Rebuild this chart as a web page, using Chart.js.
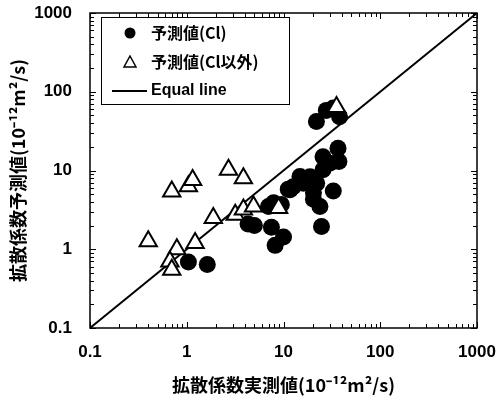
<!DOCTYPE html>
<html>
<head>
<meta charset="utf-8">
<script src="https://cdn.jsdelivr.net/npm/chart.js@4"></script>
<style>
  body{margin:0;background:#fff;}
  #wrap{width:497px;height:402px;}
</style>
</head>
<body>
<div id="wrap"><canvas id="grafico"></canvas></div>
<script>
var clX = [1.04, 1.63, 4.3, 5.0, 7.5, 8.2, 10.0, 7.0, 7.9, 9.5, 11.2, 12.6, 14.8, 16.0, 18.8, 22.0, 20.4, 20.4, 23.8, 24.7, 25.6, 25.6, 30.0, 32.7, 36.6, 37.4, 21.9, 27.7, 32.7, 38.0, 11.7];
var clY = [0.69, 0.64, 2.1, 2.0, 1.9, 1.12, 1.43, 3.5, 3.9, 3.7, 5.8, 6.2, 8.4, 6.9, 8.3, 6.9, 5.2, 4.3, 3.5, 1.95, 14.9, 10.2, 12.4, 5.5, 19.2, 13.0, 42, 58, 62, 48, 5.7];

var otrosX = [0.40, 0.70, 1.04, 1.15, 2.7, 3.85, 1.88, 3.17, 3.85, 4.9, 8.9, 0.79, 1.22, 0.67, 0.70, 35.3];
var otrosY = [1.26, 5.4, 6.3, 7.6, 10.2, 8.0, 2.5, 2.75, 3.2, 3.5, 3.33, 1.0, 1.2, 0.70, 0.55, 64];

var lineaX = [0.1, 1000];
var lineaY = [0.1, 1000];

var ticksMayores = [0.1, 1, 10, 100, 1000];

var tituloX = '拡散係数実測値(10⁻¹²m²/s)';
var tituloY = '拡散係数予測値(10⁻¹²m²/s)';
var leyenda = ['予測値(Cl)', '予測値(Cl以外)', 'Equal line'];

function armarPuntos(xs, ys){
  var pts = [];
  for (var i = 0; i < xs.length; i++) pts.push({x: xs[i], y: ys[i]});
  return pts;
}

var fuenteJP = '"Noto Sans CJK JP", "Liberation Sans", sans-serif';

// ticks menores hacia adentro y marco
var marcoPlugin = {
  id: 'marco',
  afterDraw: function(chart){
    var ctx = chart.ctx, a = chart.chartArea;
    var sx = chart.scales.x, sy = chart.scales.y;
    ctx.save();
    ctx.strokeStyle = '#000';
    ctx.lineWidth = 1;
    for (var d = 0.1; d < 1000; d *= 10) {
      for (var k = 1; k <= 10; k++) {
        var v = d * k;
        var largo = (k == 1 || k == 10) ? 6 : 4;
        var px = Math.round(sx.getPixelForValue(v)) + 0.5;
        var py = Math.round(sy.getPixelForValue(v)) + 0.5;
        ctx.beginPath();
        ctx.moveTo(px, a.bottom); ctx.lineTo(px, a.bottom - largo);
        ctx.moveTo(px, a.top); ctx.lineTo(px, a.top + largo);
        ctx.moveTo(a.left, py); ctx.lineTo(a.left + largo, py);
        ctx.moveTo(a.right, py); ctx.lineTo(a.right - largo, py);
        ctx.stroke();
      }
    }
    ctx.lineWidth = 1.5;
    ctx.strokeRect(a.left, a.top, a.right - a.left, a.bottom - a.top);

    // leyenda
    ctx.fillStyle = '#fff';
    ctx.fillRect(101, 17, 188, 87);
    ctx.lineWidth = 1;
    ctx.strokeRect(101.5, 17.5, 188, 87);
    ctx.fillStyle = '#000';
    ctx.beginPath(); ctx.arc(130, 33, 5.5, 0, Math.PI * 2); ctx.fill();
    ctx.beginPath();
    ctx.moveTo(130, 56); ctx.lineTo(136, 67); ctx.lineTo(124, 67); ctx.closePath();
    ctx.lineWidth = 1.5; ctx.stroke();
    ctx.beginPath(); ctx.moveTo(112, 91); ctx.lineTo(147, 91); ctx.lineWidth = 2; ctx.stroke();
    ctx.font = 'bold 16px ' + fuenteJP;
    ctx.textBaseline = 'middle';
    ctx.textAlign = 'left';
    ctx.fillText(leyenda[0], 151, 33);
    ctx.fillText(leyenda[1], 151, 62);
    ctx.font = 'bold 16px "Liberation Sans", sans-serif';
    ctx.fillText(leyenda[2], 151, 91);
    ctx.restore();
  }
};

function sinPadding(s){
  s.paddingTop = 0; s.paddingBottom = 0; s.paddingLeft = 0; s.paddingRight = 0;
}

function CrearGrafico(id){
  var ctx = document.getElementById(id);
  var ejeComun = {
    type: 'logarithmic',
    min: 0.1,
    max: 1000,
    afterBuildTicks: function(scale){
      scale.ticks = ticksMayores.map(function(v){ return {value: v}; });
    },
    grid: {display: false, drawTicks: false},
    border: {display: false},
    ticks: {
      color: '#000',
      autoSkip: false,
      maxRotation: 0,
      font: {family: '"Liberation Sans", Arial, sans-serif', size: 17, weight: 'bold'},
      callback: function(v){ return String(v); }
    }
  };
  var myChart = new Chart(ctx, {
    data: {
      datasets: [{
        type: 'scatter',
        label: leyenda[1],
        data: armarPuntos(otrosX, otrosY),
        pointStyle: 'triangle',
        pointRadius: 10,
        pointBackgroundColor: '#fff',
        pointBorderColor: '#000',
        pointBorderWidth: 2
      }, {
        type: 'scatter',
        label: leyenda[0],
        data: armarPuntos(clX, clY),
        pointStyle: 'circle',
        pointRadius: 8.5,
        pointBackgroundColor: '#000',
        pointBorderColor: '#000',
        pointBorderWidth: 0
      }, {
        type: 'line',
        label: leyenda[2],
        data: armarPuntos(lineaX, lineaY),
        borderColor: '#000',
        borderWidth: 2,
        pointRadius: 0,
        fill: false
      }]
    },
    options: {
      responsive: true,
      maintainAspectRatio: false,
      animation: false,
      layout: {padding: {top: 13, right: 20, left: 0, bottom: 0}},
      plugins: {legend: {display: false}, tooltip: {enabled: false}},
      scales: {
        x: Object.assign({}, ejeComun, {
          position: 'bottom',
          afterFit: function(s){ s.height = 74; sinPadding(s); },
          ticks: Object.assign({}, ejeComun.ticks, {padding: 14}),
          title: {display: true, text: tituloX, color: '#000',
                  font: {family: fuenteJP, size: 18, weight: 'bold'}, padding: {top: 0, bottom: 6}}
        }),
        y: Object.assign({}, ejeComun, {
          position: 'left',
          afterFit: function(s){ s.width = 90; sinPadding(s); },
          ticks: Object.assign({}, ejeComun.ticks, {padding: 18}),
          title: {display: true, text: tituloY, color: '#000',
                  font: {family: fuenteJP, size: 18, weight: 'bold'}, padding: {top: 7, bottom: 0}}
        })
      }
    },
    plugins: [marcoPlugin]
  });
}

CrearGrafico('grafico');
</script>
</body>
</html>
